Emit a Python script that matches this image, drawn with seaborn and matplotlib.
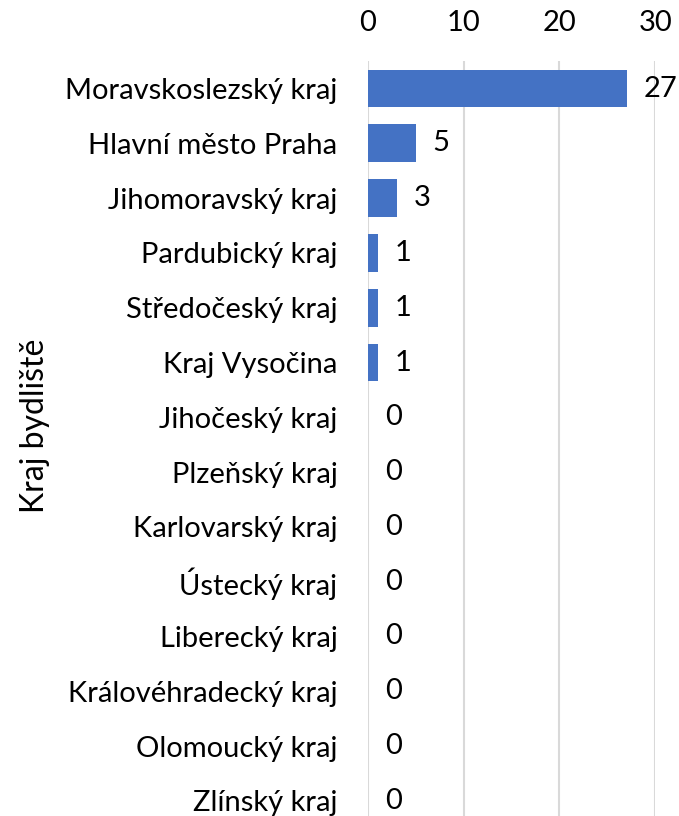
import pandas as pd
import seaborn as sns
import matplotlib.pyplot as plt

regions = ['Moravskoslezský kraj', 'Hlavní město Praha', 'Jihomoravský kraj',
           'Pardubický kraj', 'Středočeský kraj', 'Kraj Vysočina',
           'Jihočeský kraj', 'Plzeňský kraj', 'Karlovarský kraj',
           'Ústecký kraj', 'Liberecký kraj', 'Královéhradecký kraj',
           'Olomoucký kraj', 'Zlínský kraj']
counts = [27, 5, 3, 1, 1, 1, 0, 0, 0, 0, 0, 0, 0, 0]
x_ticks = [0, 10, 20, 30]

df = pd.DataFrame({'region': regions, 'count': counts})

sns.set_theme(style='white')
plt.rcParams['font.family'] = ['Lato', 'DejaVu Sans']

fig = plt.figure(figsize=(6.79, 8.16), dpi=100)
ax = fig.add_axes([0.542, -0.015, 0.423, 0.94])

sns.barplot(data=df, y='region', x='count', color='#4472C4', width=0.69,
            saturation=1, linewidth=0, ax=ax, zorder=3)

for i, v in enumerate(counts):
    ax.annotate(str(v), (v, i), xytext=(12, 0), textcoords='offset points',
                va='center', ha='left', fontsize=21, color='black')

ax.set_xlim(0, 30)
ax.set_xticks(x_ticks)
ax.xaxis.tick_top()
ax.tick_params(axis='x', length=0, pad=18, labelsize=21, labelcolor='black')
ax.tick_params(axis='y', length=0, pad=22, labelsize=21, labelcolor='black')
ax.set_xlabel('')
ax.set_ylabel('Kraj bydliště', fontsize=23, color='black', va='center')
ax.yaxis.set_label_coords(-1.16, 0.525)
ax.grid(axis='x', color='#D9D9D9', linewidth=1.5, zorder=0)
for s in ax.spines.values():
    s.set_visible(False)

fig.savefig('out.png', dpi=100)
